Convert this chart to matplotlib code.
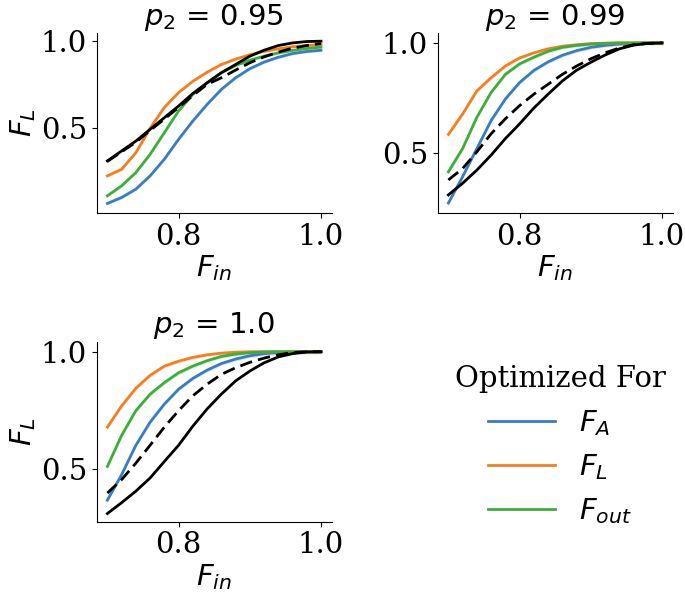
import numpy as np
import matplotlib
matplotlib.use("Agg")
import matplotlib.pyplot as plt

plt.rcParams['font.family'] = ['DejaVu Serif']
plt.rcParams['mathtext.fontset'] = 'dejavusans'
FS = 21

f_in = [0.70, 0.72, 0.74, 0.76, 0.78, 0.80, 0.82, 0.84, 0.86, 0.88, 0.90, 0.92, 0.94, 0.96, 0.98, 1.00]

titles = [r"$p_2$ = 0.95", r"$p_2$ = 0.99", r"$p_2$ = 1.0"]

# p2 = 0.95
fa_095 = [0.069, 0.103, 0.151, 0.227, 0.323, 0.437, 0.542, 0.637, 0.723, 0.790, 0.842, 0.880, 0.908, 0.929, 0.941, 0.948]
fl_095 = [0.227, 0.265, 0.36, 0.50, 0.62, 0.705, 0.77, 0.822, 0.866, 0.897, 0.922, 0.942, 0.956, 0.968, 0.975, 0.981]
fo_095 = [0.113, 0.17, 0.246, 0.351, 0.475, 0.60, 0.695, 0.761, 0.819, 0.861, 0.891, 0.914, 0.933, 0.947, 0.958, 0.966]
ref_095 = [0.313, 0.37, 0.427, 0.494, 0.561, 0.628, 0.70, 0.761, 0.819, 0.866, 0.914, 0.948, 0.975, 0.99, 0.998, 1.0]
dash_095 = [0.31, 0.365, 0.42, 0.488, 0.553, 0.62, 0.688, 0.752, 0.79, 0.834, 0.876, 0.91, 0.937, 0.96, 0.975, 0.987]

# p2 = 0.99
fa_099 = [0.272, 0.392, 0.52, 0.647, 0.745, 0.82, 0.875, 0.914, 0.944, 0.965, 0.98, 0.989, 0.995, 0.998, 1.0, 1.0]
fl_099 = [0.584, 0.677, 0.782, 0.842, 0.895, 0.932, 0.955, 0.973, 0.985, 0.992, 0.997, 0.999, 1.0, 1.0, 1.0, 1.0]
fo_099 = [0.414, 0.52, 0.662, 0.775, 0.857, 0.905, 0.935, 0.962, 0.98, 0.989, 0.995, 0.998, 1.0, 1.0, 1.0, 1.0]
ref_099 = [0.309, 0.362, 0.422, 0.49, 0.565, 0.632, 0.704, 0.767, 0.827, 0.876, 0.912, 0.945, 0.973, 0.99, 0.998, 1.0]
dash_099 = [0.377, 0.429, 0.505, 0.587, 0.655, 0.715, 0.767, 0.812, 0.857, 0.895, 0.928, 0.955, 0.977, 0.992, 0.998, 1.0]

# p2 = 1.0
fa_100 = [0.37, 0.478, 0.603, 0.701, 0.778, 0.841, 0.887, 0.922, 0.95, 0.969, 0.983, 0.992, 0.997, 0.999, 1.0, 1.0]
fl_100 = [0.68, 0.77, 0.845, 0.9, 0.939, 0.96, 0.976, 0.987, 0.994, 0.998, 1.0, 1.0, 1.0, 1.0, 1.0, 1.0]
fo_100 = [0.513, 0.645, 0.75, 0.82, 0.869, 0.911, 0.939, 0.962, 0.98, 0.99, 0.996, 0.999, 1.0, 1.0, 1.0, 1.0]
ref_100 = [0.313, 0.359, 0.408, 0.464, 0.534, 0.603, 0.684, 0.757, 0.82, 0.876, 0.918, 0.953, 0.978, 0.992, 0.999, 1.0]
dash_100 = [0.40, 0.457, 0.527, 0.603, 0.68, 0.75, 0.813, 0.862, 0.904, 0.932, 0.955, 0.973, 0.987, 0.997, 1.0, 1.0]

panels = [
    (fa_095, fl_095, fo_095, ref_095, dash_095),
    (fa_099, fl_099, fo_099, ref_099, dash_099),
    (fa_100, fl_100, fo_100, ref_100, dash_100),
]
series_labels = [r"$F_A$", r"$F_L$", r"$F_{out}$"]
colors = ["#3a7dbf", "#f47f20", "#3cae3a"]

W, H = 685, 599
fig = plt.figure(figsize=(W / 100, H / 100), dpi=100)

def px_axes(left, top, w, h):
    return fig.add_axes([left / W, 1 - (top + h) / H, w / W, h / H])

axes = [px_axes(96.7, 33, 235, 180), px_axes(437.7, 33, 235, 180), px_axes(96.7, 341.7, 235, 180)]

handles = []
for ax, title, data in zip(axes, titles, panels):
    fa, fl, fo, ref, dash = data
    x = np.array(f_in)
    for vals, c, lab in zip((fa, fl, fo), colors, series_labels):
        v = np.array(vals)
        ax.fill_between(x, v - 0.008, v + 0.008, color=c, alpha=0.2, lw=0)
        h, = ax.plot(x, v, color=c, lw=2.0, label=lab)
        if ax is axes[0]:
            handles.append(h)
    ax.plot(x, ref, color="black", lw=2.0)
    ax.plot(x, dash, color="black", lw=2.0, ls=(0, (4.5, 2.2)))
    ax.set_xticks([0.8, 1.0])
    ax.set_yticks([0.5, 1.0])
    ax.set_xticklabels(["0.8", "1.0"])
    ax.set_yticklabels(["0.5", "1.0"])
    ax.tick_params(labelsize=FS)
    ax.set_title(title, fontsize=FS, family="DejaVu Sans")
    ax.set_xlabel(r"$F_{in}$", fontsize=FS, labelpad=2)
    if ax is not axes[1]:
        ax.set_ylabel(r"$F_L$", fontsize=FS, labelpad=2)
    ax.spines["top"].set_visible(False)
    ax.spines["right"].set_visible(False)

leg = fig.legend(handles=handles, labels=series_labels, title="Optimized For",
                 loc="upper center", bbox_to_anchor=(560 / W, 1 - 339 / H),
                 frameon=False, fontsize=FS, title_fontsize=FS, handlelength=2.3,
                 labelspacing=0.5)

fig.savefig("out.png", dpi=100)
